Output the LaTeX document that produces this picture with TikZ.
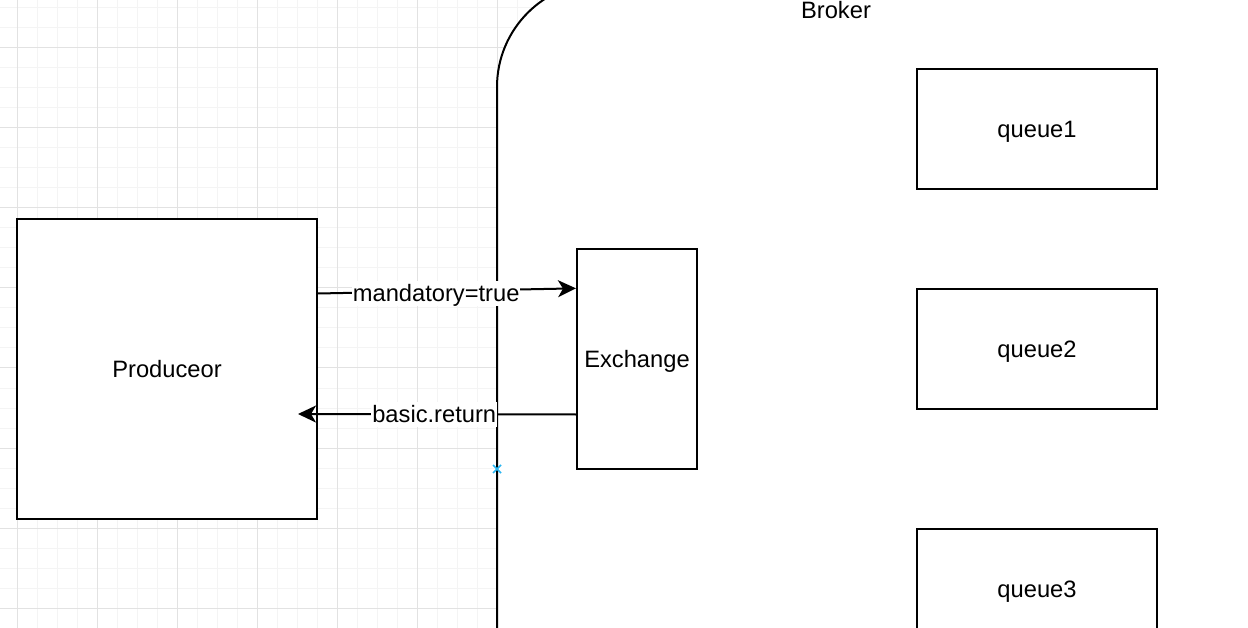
\documentclass[tikz,border=0pt]{standalone}
\usepackage{fontspec}
\setmainfont{Liberation Sans}
\usetikzlibrary{arrows.meta,calc}
\definecolor{gridminor}{HTML}{F4F4F4}
\definecolor{gridmajor}{HTML}{E2E2E2}
\definecolor{markblue}{HTML}{29B6F2}
\begin{document}
\begin{tikzpicture}[x=1pt,y=-1pt,
  font=\fontsize{23.7}{28}\selectfont,
  box/.style={draw, line width=2pt, fill=white, inner sep=0pt, align=center, text height=17pt, text depth=0pt},
  conn/.style={line width=2pt, -{Stealth[length=18pt,width=17pt,inset=5pt]}},
  plain/.style={line width=2pt},
  lbl/.style={fill=white, inner xsep=1pt, inner ysep=4pt, text height=17pt, text depth=0pt},
  minorline/.style={gridminor, line width=1pt},
  majorline/.style={gridmajor, line width=1pt}]
\useasboundingbox (0,0) rectangle (1248,628);
\clip (0,0) rectangle (1248,628);
% grid
\foreach \x in {17,37,...,1257} \draw[minorline] (\x,0) -- (\x,628);
\foreach \y in {8,28,...,628} \draw[minorline] (0,\y) -- (1248,\y);
\foreach \x in {17,97,...,1257} \draw[majorline] (\x,0) -- (\x,628);
\foreach \y in {48,128,...,628} \draw[majorline] (0,\y) -- (1248,\y);
% broker
\draw[plain, fill=white, rounded corners=105pt] (497,-18) rectangle (1400,800);
\node[text height=17pt, text depth=0pt] (brokerlbl) at (836,10) {Broker};
% nodes
\node[box, minimum width=300pt, minimum height=300pt] (prod) at (167,369) {Produceor};
\node[box, minimum width=120pt, minimum height=220pt] (exch) at (637,359) {Exchange};
\node[box, minimum width=240pt, minimum height=120pt] (q1) at (1037,129) {queue1};
\node[box, minimum width=240pt, minimum height=120pt] (q2) at (1037,349) {queue2};
\node[box, minimum width=240pt, minimum height=120pt] (q3) at (1037,589) {queue3};
% connectors
\draw[conn] ($(prod.north east)!0.25!(prod.south east)$) --
  node[lbl, pos=0.458, yshift=-2pt] (mandlbl) {mandatory=true}
  ($(exch.north west)!0.1818!(exch.south west)$);
\draw[conn] ($(exch.north west)!0.75!(exch.south west)$) --
  node[lbl, pos=0.51] (retlbl) {basic.return}
  ($(prod.east)+(-20,45)$);
% marker
\coordinate (mk) at (497,469);
\draw[markblue, line width=1.5pt] ($(mk)+(-4,-4)$) -- ($(mk)+(4,4)$)
  ($(mk)+(-4,4)$) -- ($(mk)+(4,-4)$);
\end{tikzpicture}
\end{document}
